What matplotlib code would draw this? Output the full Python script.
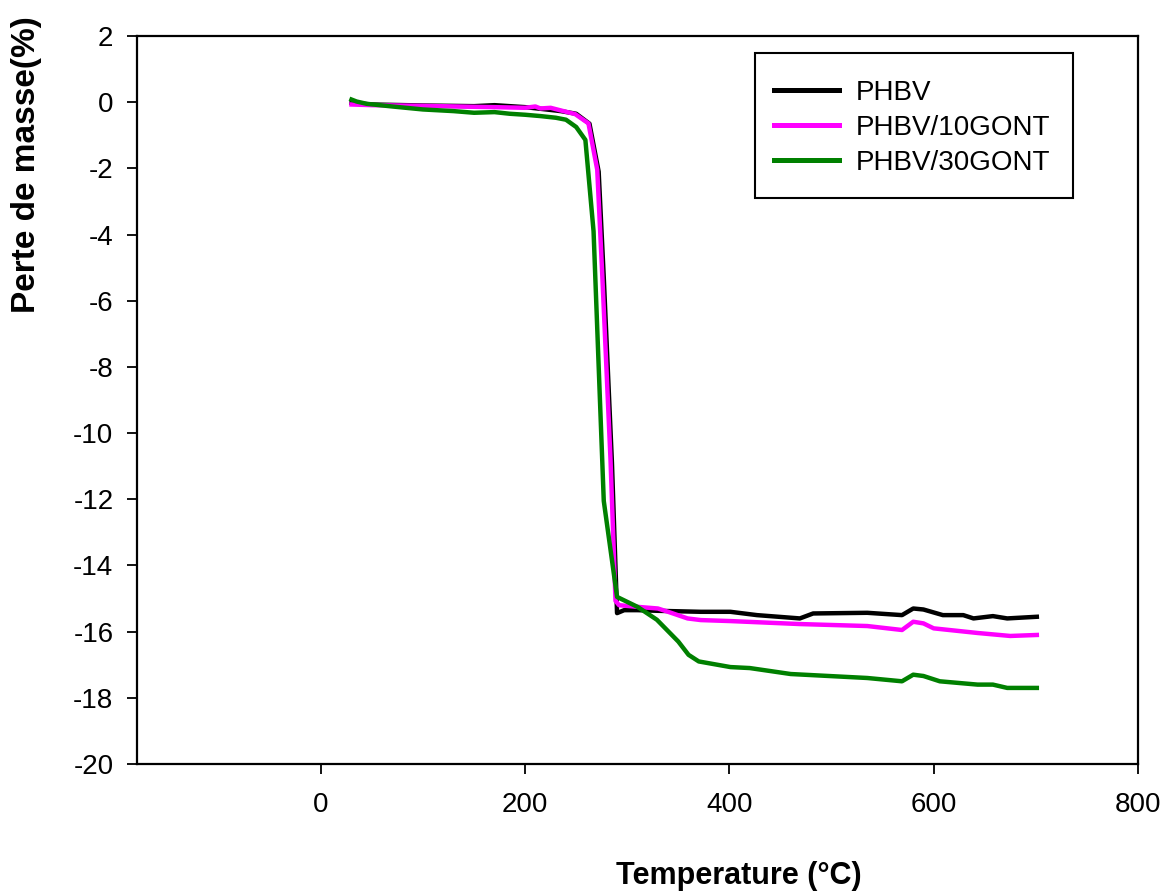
import matplotlib
matplotlib.use("Agg")
import matplotlib.pyplot as plt
from matplotlib.patches import Rectangle

plt.rcParams['font.family'] = ['Liberation Sans', 'DejaVu Sans']
plt.rcParams['axes.unicode_minus'] = False

# PHBV
temp_phbv = [30, 50, 100, 150, 170, 200, 215, 235, 250, 263, 272, 277, 285, 290,
             297, 310, 330, 372, 401, 427, 469, 482, 535, 569, 580, 590, 609,
             629, 639, 658, 672, 701]
mass_phbv = [-0.02, -0.07, -0.10, -0.12, -0.09, -0.15, -0.20, -0.27, -0.35, -0.65,
             -2.1, -5.3, -10.9, -15.44, -15.35, -15.35, -15.37, -15.40, -15.40,
             -15.50, -15.60, -15.45, -15.43, -15.50, -15.30, -15.33, -15.50,
             -15.50, -15.60, -15.53, -15.60, -15.55]

# PHBV/10GONT
temp_10 = [30, 50, 100, 150, 170, 200, 210, 215, 225, 235, 249, 262, 270.6, 275.5,
           283.6, 288.5, 292, 310, 330, 340, 359, 372, 401, 469, 535, 569, 580,
           590, 600, 643, 675, 701]
mass_10 = [-0.07, -0.09, -0.11, -0.14, -0.15, -0.17, -0.13, -0.19, -0.17, -0.25,
           -0.36, -0.64, -2.04, -5.2, -10.8, -15.07, -15.2, -15.25, -15.30, -15.40,
           -15.60, -15.65, -15.68, -15.77, -15.83, -15.95, -15.70, -15.75, -15.90,
           -16.04, -16.13, -16.10]

# PHBV/30GONT
temp_30 = [30, 35, 45, 70, 100, 130, 150, 170, 185, 200, 215, 230, 240, 250, 259,
           267, 277, 290, 310, 329, 350, 360, 370, 401, 420, 460, 535, 569, 580,
           590, 606, 643, 658, 672, 701]
mass_30 = [0.08, 0.02, -0.05, -0.13, -0.22, -0.27, -0.32, -0.30, -0.35, -0.38,
           -0.42, -0.47, -0.53, -0.75, -1.14, -3.9, -12.05, -14.95, -15.25, -15.64,
           -16.3, -16.7, -16.9, -17.07, -17.1, -17.28, -17.4, -17.5, -17.3, -17.34,
           -17.5, -17.6, -17.6, -17.7, -17.7]

W, H = 1167, 891
fig = plt.figure(figsize=(W / 100, H / 100), dpi=100)
ax = fig.add_axes([0.1174, 0.1425, 0.8577, 0.8171])

ax.plot(temp_phbv, mass_phbv, color='black', lw=3.2, label='PHBV', zorder=3)
ax.plot(temp_10, mass_10, color='#ff00ff', lw=3.2, label='PHBV/10GONT', zorder=4)
ax.plot(temp_30, mass_30, color='#008000', lw=3.2, label='PHBV/30GONT', zorder=5)

ax.set_xlim(-180, 800)
ax.set_ylim(-20, 2)
ax.set_xticks([0, 200, 400, 600, 800])
ax.set_yticks(range(-20, 3, 2))

for s in ax.spines.values():
    s.set_linewidth(1.6)
ax.tick_params(direction='out', length=7, width=1.3, labelsize=20)
ax.tick_params(axis='x', pad=13)
ax.tick_params(axis='y', pad=10)

fig.text(27 / W, 1 - 165 / H, 'Perte de masse(%)', rotation=90,
         ha='center', va='center', fontsize=24, fontweight='bold')
fig.text(739 / W, 1 - 876 / H, 'Temperature (°C)',
         ha='center', va='center', fontsize=22, fontweight='bold')

# legend box drawn separately so its size matches the original
ax.add_patch(Rectangle((755 / W, 1 - 198 / H), (1073 - 755) / W, (198 - 53) / H,
                       transform=fig.transFigure, facecolor='white',
                       edgecolor='black', lw=1.5, zorder=6, clip_on=False))
leg = ax.legend(loc='upper left', bbox_to_anchor=(774 / W, 1 - 80 / H),
                bbox_transform=fig.transFigure, fontsize=20, frameon=False,
                borderpad=0, labelspacing=0.32, handlelength=2.35,
                handletextpad=0.58, borderaxespad=0)
leg.set_zorder(10)
for line in leg.get_lines():
    line.set_linewidth(3.6)

fig.savefig('out.png', dpi=100)
